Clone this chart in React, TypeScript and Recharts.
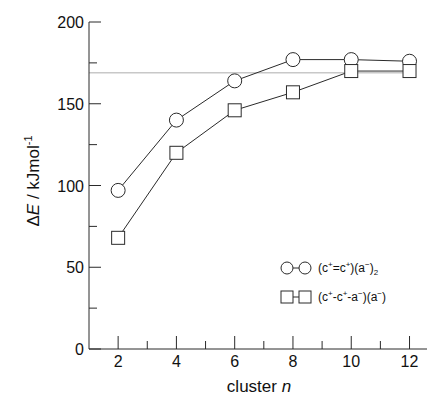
import React from 'react';
import {
  LineChart,
  Line,
  XAxis,
  YAxis,
  ReferenceLine,
} from 'recharts';

// cluster size n
const clusterSizes = [2, 4, 6, 8, 10, 12];
// ΔE for (c+=c+)(a-)2 clusters, kJ/mol
const pairedEnergies = [97, 140, 164, 177, 177, 176];
// ΔE for (c+-c+-a-)(a-) clusters, kJ/mol
const chainEnergies = [68, 120, 146, 157, 170, 170];
const limitEnergy = 169;

const xTicks = [2, 3, 4, 5, 6, 7, 8, 9, 10, 11, 12];
const yTicks = [0, 25, 50, 75, 100, 125, 150, 175, 200];

const data = clusterSizes.map((n, i) => ({
  n,
  paired: pairedEnergies[i],
  chain: chainEnergies[i],
}));

const INK = '#2a2a2a';
const FONT = '"Liberation Sans", Arial, sans-serif';

const XTick = (props: any) => {
  const { x, y, payload } = props;
  const major = payload.value % 2 === 0;
  return (
    <g>
      <line x1={x} y1={y} x2={x} y2={y - (major ? 13 : 8)} stroke={INK} strokeWidth={1} />
      {major && (
        <text x={x} y={y + 18} textAnchor="middle" fontSize={16} fontFamily={FONT} fill="#111">
          {payload.value}
        </text>
      )}
    </g>
  );
};

const YTick = (props: any) => {
  const { x, y, payload } = props;
  const major = payload.value % 50 === 0;
  return (
    <g>
      <line x1={x} y1={y} x2={x + (major ? 12 : 8)} y2={y} stroke={INK} strokeWidth={1} />
      {major && (
        <text x={x - 5} y={y + 6} textAnchor="end" fontSize={16} fontFamily={FONT} fill="#111">
          {payload.value}
        </text>
      )}
    </g>
  );
};

const SquareDot = (props: any) => {
  const { cx, cy } = props;
  if (cx == null || cy == null) return null;
  return <rect x={cx - 6.5} y={cy - 6.5} width={13} height={13} fill="#fff" stroke={INK} strokeWidth={1} />;
};

const sup = { fontSize: 8, position: 'relative' as const, top: -5 };
const sub = { fontSize: 8, position: 'relative' as const, top: 3 };

const ChartLegend = () => (
  <div style={{ position: 'absolute', left: 280, top: 253, width: 150, fontFamily: FONT, fontSize: 12, color: '#111' }}>
    <div style={{ display: 'flex', alignItems: 'center', height: 29 }}>
      <svg width={34} height={16}>
        <line x1={6} y1={8} x2={25} y2={8} stroke={INK} />
        <circle cx={7} cy={8} r={6} fill="#fff" stroke={INK} />
        <circle cx={25} cy={8} r={6} fill="#fff" stroke={INK} />
      </svg>
      <span style={{ marginLeft: 4 }}>
        (c<span style={sup}>+</span>=c<span style={sup}>+</span>)(a<span style={sup}>−</span>)<span style={sub}>2</span>
      </span>
    </div>
    <div style={{ display: 'flex', alignItems: 'center', height: 29 }}>
      <svg width={34} height={16}>
        <line x1={6} y1={8} x2={25} y2={8} stroke={INK} />
        <rect x={1} y={2} width={12} height={12} fill="#fff" stroke={INK} />
        <rect x={19} y={2} width={12} height={12} fill="#fff" stroke={INK} />
      </svg>
      <span style={{ marginLeft: 4 }}>
        (c<span style={sup}>+</span>-c<span style={sup}>+</span>-a<span style={sup}>−</span>)(a<span style={sup}>−</span>)
      </span>
    </div>
  </div>
);

export default function App() {
  return (
    <div style={{ position: 'absolute', left: 0, top: 0, width: 430, height: 396, background: '#fff' }}>
      <LineChart width={430} height={396} data={data} margin={{ top: 22, right: 3, bottom: 0, left: 0 }}>
        <XAxis
          dataKey="n"
          type="number"
          domain={[1, 12.6]}
          ticks={xTicks}
          interval={0}
          height={47}
          tickSize={0}
          tickMargin={0}
          tickLine={false}
          tick={<XTick />}
          axisLine={{ stroke: INK, strokeWidth: 1 }}
        />
        <YAxis
          type="number"
          domain={[0, 200]}
          ticks={yTicks}
          interval={0}
          width={89}
          tickSize={0}
          tickMargin={0}
          tickLine={false}
          tick={<YTick />}
          axisLine={{ stroke: INK, strokeWidth: 1 }}
        />
        <ReferenceLine
          segment={[{ x: 1, y: limitEnergy }, { x: 12, y: limitEnergy }]}
          stroke="#c8c8c8"
          strokeWidth={1.5}
        />
        <Line
          dataKey="paired"
          stroke={INK}
          strokeWidth={1}
          dot={{ r: 7, fill: '#fff', stroke: INK, strokeWidth: 1 }}
          activeDot={false}
          isAnimationActive={false}
        />
        <Line
          dataKey="chain"
          stroke={INK}
          strokeWidth={1}
          dot={<SquareDot />}
          activeDot={false}
          isAnimationActive={false}
        />
        <text x={259} y={392} textAnchor="middle" fontSize={17} fontFamily={FONT} fill="#111">
          cluster <tspan fontStyle="italic">n</tspan>
        </text>
        <text
          x={39}
          y={181}
          transform="rotate(-90 39 181)"
          textAnchor="middle"
          fontSize={17}
          fontFamily={FONT}
          fill="#111"
        >
          Δ<tspan fontStyle="italic">E</tspan> / kJmol<tspan fontSize={11} dy={-7}>-1</tspan>
        </text>
      </LineChart>
      <ChartLegend />
    </div>
  );
}
